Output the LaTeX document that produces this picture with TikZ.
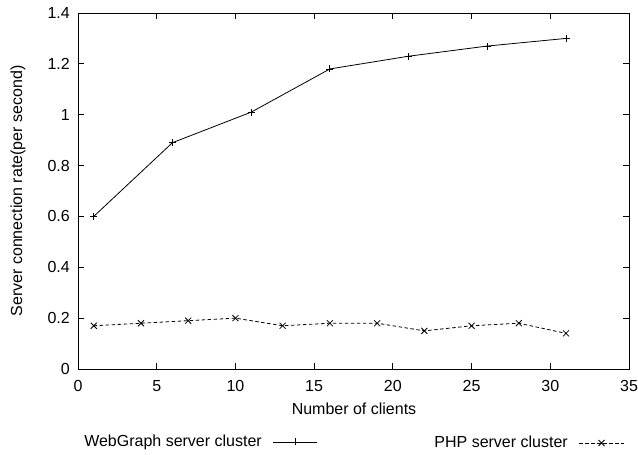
\documentclass[tikz,border=0pt]{standalone}
\usepackage{fontspec}
\setmainfont{Liberation Sans}
\begin{document}
\begin{tikzpicture}[x=1pt,y=1pt,
  every node/.style={font=\fontsize{16}{19}\selectfont, inner sep=0pt},
  axisline/.style={line width=0.9pt, black},
  series/.style={line width=0.8pt, black},
  phpline/.style={line width=0.8pt, black, dash pattern=on 3.5pt off 2.5pt},
  plusmark/.style={line width=0.8pt, black},
  crossmark/.style={line width=0.8pt, black}
]
\useasboundingbox (0,0) rectangle (638,455);
\fill[white] (0,0) rectangle (638,455);

% plot frame in data coordinates: x 0..35, y 0..1.4
\begin{scope}[shift={(78,86)}, x=15.743pt, y=254.29pt]
  \draw[axisline] (0,0) rectangle (35,1.4);
  % x ticks (bottom and mirrored on top)
  \foreach \t in {0,5,...,35} {
    \draw[axisline] (\t,0) -- ++(0,6pt);
    \draw[axisline] (\t,1.4) -- ++(0,-6pt);
    \node (xl\t) at ([yshift=-17pt]\t,0) {\t};
  }
  % y ticks (left and mirrored on right)
  \foreach \v/\s in {0/0,0.2/0.2,0.4/0.4,0.6/0.6,0.8/0.8,1/1,1.2/1.2,1.4/1.4} {
    \draw[axisline] (0,\v) -- ++(6pt,0);
    \draw[axisline] (35,\v) -- ++(-6pt,0);
    \node[anchor=east] at ([xshift=-8pt]0,\v) {\s};
  }

  % WebGraph server cluster
  \foreach \n/\px/\py in {a/1/0.60,b/6/0.89,c/11/1.01,d/16/1.18,e/21/1.23,f/26/1.27,g/31/1.30}
    \coordinate (w\n) at (\px,\py);
  \draw[series] (wa) -- (wb) -- (wc) -- (wd) -- (we) -- (wf) -- (wg);
  \foreach \n in {a,b,c,d,e,f,g}
    \draw[plusmark] ([xshift=-3.5pt]w\n) -- ([xshift=3.5pt]w\n)
                    ([yshift=-3.5pt]w\n) -- ([yshift=3.5pt]w\n);

  % PHP server cluster
  \foreach \n/\px/\py in {a/1/0.17,b/4/0.18,c/7/0.19,d/10/0.20,e/13/0.17,f/16/0.18,g/19/0.18,h/22/0.15,i/25/0.17,j/28/0.18,k/31/0.14}
    \coordinate (p\n) at (\px,\py);
  \draw[phpline] (pa) -- (pb) -- (pc) -- (pd) -- (pe) -- (pf) -- (pg) -- (ph) -- (pi) -- (pj) -- (pk);
  \foreach \n in {a,b,c,d,e,f,g,h,i,j,k}
    \draw[crossmark] ([shift={(-3pt,-3pt)}]p\n) -- ([shift={(3pt,3pt)}]p\n)
                     ([shift={(-3pt,3pt)}]p\n) -- ([shift={(3pt,-3pt)}]p\n);
\end{scope}

% axis titles
\node (xtitle) at (354,46) {Number of clients};
\node[rotate=90] (ytitle) at (18,264) {Server connection rate(per second)};

% legend
\node[anchor=east] (lgw) at (262,13) {WebGraph server cluster};
\coordinate (lgwa) at (273,13);
\coordinate (lgwb) at (317,13);
\draw[series] (lgwa) -- (lgwb);
\draw[plusmark] (295,13) ++(-3.5,0) -- ++(7,0) (295,13) ++(0,-3.5) -- ++(0,7);

\node[anchor=east] (lgp) at (568,13) {PHP server cluster};
\coordinate (lgpa) at (579,12);
\coordinate (lgpb) at (624,12);
\draw[phpline] (lgpa) -- (lgpb);
\draw[crossmark] (601.5,12) ++(-3,-3) -- ++(6,6) (601.5,12) ++(-3,3) -- ++(6,-6);
\end{tikzpicture}
\end{document}
